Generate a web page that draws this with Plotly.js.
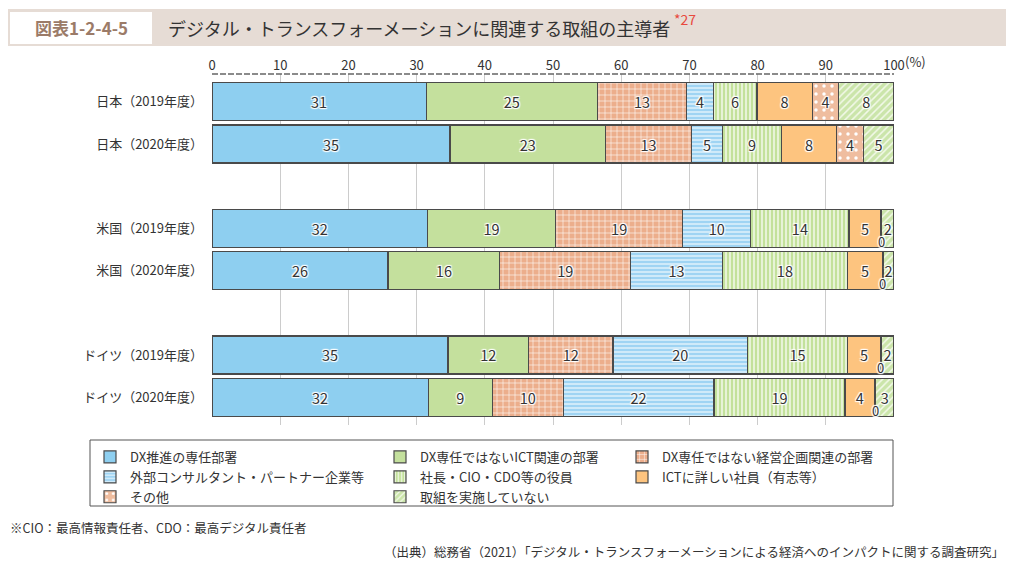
<!DOCTYPE html>
<html><head><meta charset="utf-8">
<script src="https://cdn.plot.ly/plotly-3.0.1.min.js"></script>
<style>html,body{margin:0;padding:0;background:#fff}#chart{width:1015px;height:570px}</style>
</head><body><div id="chart"></div>
<script>
// ---- data ----
const categories = ['日本（2019年度）','日本（2020年度）','米国（2019年度）','米国（2020年度）','ドイツ（2019年度）','ドイツ（2020年度）'];
const seriesNames = ['DX推進の専任部署','DX専任ではないICT関連の部署','DX専任ではない経営企画関連の部署','外部コンサルタント・パートナー企業等','社長・CIO・CDO等の役員','ICTに詳しい社員（有志等）','その他','取組を実施していない'];
const dxDedicated      = [31.4, 34.9, 31.6, 25.8, 34.6, 31.7];
const ictDept          = [25.1, 22.8, 18.8, 16.4, 11.8,  9.4];
const planningDept     = [13.1, 12.6, 18.6, 19.2, 12.4, 10.4];
const externalPartners = [ 3.9,  4.6, 10.0, 13.4, 19.7, 22.1];
const executives       = [ 6.4,  8.6, 14.4, 18.4, 14.7, 19.2];
const ictStaff         = [ 8.1,  8.1,  4.7,  5.1,  4.8,  4.4];
const others           = [ 3.9,  3.9,  0.1,  0.1,  0.1,  0.1];
const notImplemented   = [ 8.1,  4.5,  1.8,  1.6,  1.9,  2.7];
const tickValues = [0,10,20,30,40,50,60,70,80,90,100];
const tickLabels = ['0','10','20','30','40','50','60','70','80','90','100'];
const unitLabel = '(%)';
const title = 'デジタル・トランスフォーメーションに関連する取組の主導者';
const figNo = '図表1-2-4-5';
const noteRef = '*27';
const footnote = '※CIO：最高情報責任者、CDO：最高デジタル責任者';
const source = '（出典）総務省（2021）「デジタル・トランスフォーメーションによる経済へのインパクトに関する調査研究」';

const seriesValues = [dxDedicated, ictDept, planningDept, externalPartners, executives, ictStaff, others, notImplemented];

// ---- styles ----
const styles = [
  {color:'#8ecff0'},
  {color:'#c4e09d'},
  {color:'#eeb495', pattern:{shape:'+', bgcolor:'#ecae8c', fgcolor:'#ffffff', size:6, solidity:0.18}},
  {color:'#a9daf5', pattern:{shape:'-', bgcolor:'#9fd4f3', fgcolor:'#e4f4fc', size:4, solidity:0.35}},
  {color:'#cde6a9', pattern:{shape:'|', bgcolor:'#c3e19b', fgcolor:'#f1f8e6', size:4, solidity:0.4}},
  {color:'#fdc47f'},
  {color:'#f1c1a4', pattern:{shape:'.', bgcolor:'#efbd9f', fgcolor:'#ffffff', size:8, solidity:0.15}},
  {color:'#d3e9b6', pattern:{shape:'/', bgcolor:'#cbe5aa', fgcolor:'#f3f9ea', size:5, solidity:0.3}}
];
const legendOf = ['legend','legend2','legend3','legend','legend2','legend3','legend','legend2'];

const W = 1015, H = 570, L = 212, R = 894, T = 74, B = 425;
const X = p => (p - L) / (R - L);
const Y = p => (B - p) / (B - T);

const FONT = '"Noto Sans CJK JP", "Noto Sans", sans-serif';
const halo = '1px 1px 1px #fff, -1px -1px 1px #fff, 1px -1px 1px #fff, -1px 1px 1px #fff, 0 0 2px #fff';

const traces = seriesValues.map((vals, i) => ({
  type:'bar', orientation:'h',
  name: seriesNames[i],
  x: vals, y: categories,
  legend: legendOf[i],
  marker: Object.assign({line:{color:'#4a4a4a', width:1.2}}, styles[i]),
  text: vals.map(v => v >= 0.5 ? String(Math.round(v)) : ''),
  textposition:'inside', insidetextanchor:'middle', constraintext:'none',
  textfont:{family:FONT, size:14.5, color:'#333', shadow:halo},
  hoverinfo:'skip'
}));

// small-value labels placed beneath the segment
const annotations = [];
categories.forEach((c, ci) => {
  seriesValues.forEach((vals, si) => {
    if (vals[ci] < 0.5) {
      let cum = 0;
      for (let k = 0; k < si; k++) cum += seriesValues[k][ci];
      annotations.push({x: cum + vals[ci]/2, y: c, xref:'x', yref:'y', text:String(Math.round(vals[ci])),
        showarrow:false, yshift:-13, font:{family:FONT, size:13, color:'#333', shadow:halo}});
    }
  });
});

annotations.push(
  {x:X(81), y:Y(28), xref:'paper', yref:'paper', text:'<b>'+figNo+'</b>', showarrow:false, xanchor:'center', yanchor:'middle', font:{family:FONT, size:17, color:'#9b7b68'}},
  {x:X(166), y:Y(28), xref:'paper', yref:'paper', text:title, showarrow:false, xanchor:'left', yanchor:'middle', font:{family:FONT, size:18, color:'#333'}},
  {x:X(672), y:Y(19), xref:'paper', yref:'paper', text:noteRef, showarrow:false, xanchor:'left', yanchor:'middle', font:{family:FONT, size:14, color:'#e8493d'}},
  {x:X(903), y:Y(62), xref:'paper', yref:'paper', text:unitLabel, showarrow:false, xanchor:'left', yanchor:'middle', font:{family:FONT, size:13, color:'#333'}},
  {x:X(8), y:Y(527), xref:'paper', yref:'paper', text:footnote, showarrow:false, xanchor:'left', yanchor:'middle', font:{family:FONT, size:12.5, color:'#333'}},
  {x:X(1006), y:Y(551), xref:'paper', yref:'paper', text:source, showarrow:false, xanchor:'right', yanchor:'middle', font:{family:FONT, size:12.5, color:'#333'}}
);

const shapes = [
  {type:'rect', xref:'paper', yref:'paper', x0:X(8), x1:X(1006), y0:Y(9), y1:Y(46), fillcolor:'#e6dcd5', line:{width:0}, layer:'below'},
  {type:'rect', xref:'paper', yref:'paper', x0:X(10), x1:X(152), y0:Y(12), y1:Y(44), fillcolor:'#ffffff', line:{width:0}, layer:'below'},
  {type:'rect', xref:'paper', yref:'paper', x0:X(90), x1:X(893), y0:Y(440), y1:Y(506), fillcolor:'rgba(0,0,0,0)', line:{color:'#555', width:1}},
  {type:'line', xref:'paper', yref:'paper', x0:0, x1:1, y0:1, y1:1, line:{color:'#666', width:1.5, dash:'6px,2px'}}
];

const legendBase = {orientation:'v', xanchor:'left', yanchor:'top', y:Y(442), bgcolor:'rgba(0,0,0,0)', borderwidth:0, font:{family:FONT, size:13, color:'#333'}, traceorder:'normal', itemclick:false, itemdoubleclick:false};

const layout = {
  width:W, height:H,
  margin:{l:L, r:W-R, t:T, b:H-B, pad:0},
  barmode:'stack', bargap:0.1,
  paper_bgcolor:'#fff', plot_bgcolor:'#fff',
  font:{family:FONT, size:13, color:'#333'},
  xaxis:{side:'top', range:[0,100], tickmode:'array', tickvals:tickValues, ticktext:tickLabels,
    showgrid:true, gridcolor:'#cccccc', gridwidth:1, zeroline:false, showline:false, ticks:'',
    tickfont:{family:FONT, size:13, color:'#333'}, fixedrange:true},
  yaxis:{type:'category', categoryorder:'array',
    categoryarray:[categories[0], categories[1], ' ', categories[2], categories[3], '  ', categories[4], categories[5]],
    range:[7.66, -0.66], showgrid:false, zeroline:false, showline:false, ticks:'', ticklabelstandoff:8,
    tickfont:{family:FONT, size:13, color:'#333'}, fixedrange:true},
  showlegend:true,
  legend: Object.assign({}, legendBase, {x:X(90)}),
  legend2: Object.assign({}, legendBase, {x:X(380)}),
  legend3: Object.assign({}, legendBase, {x:X(622)}),
  shapes, annotations
};

Plotly.newPlot('chart', traces, layout, {displayModeBar:false, staticPlot:true});
</script>
</body></html>
